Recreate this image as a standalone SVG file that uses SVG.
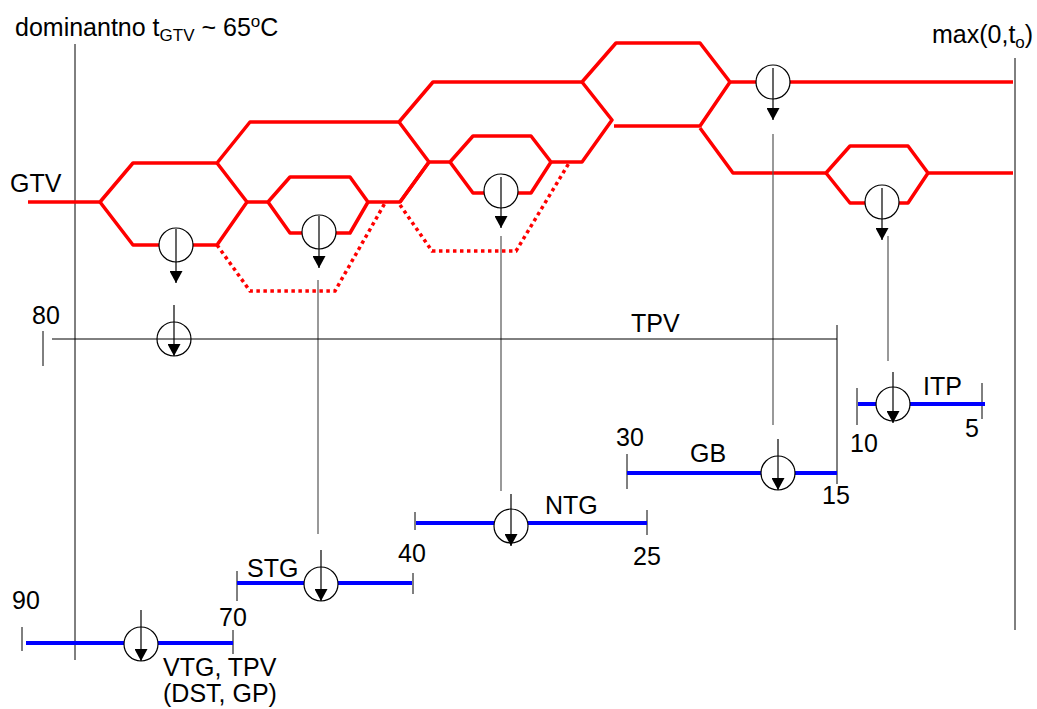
<svg xmlns="http://www.w3.org/2000/svg" width="1037" height="709" viewBox="0 0 1037 709">
<style>
.t{font-family:"Liberation Sans",Arial,sans-serif;font-size:25px;fill:#000}
.red{fill:none;stroke:#ff0000;stroke-width:3.5;stroke-linejoin:round}
.dot{fill:none;stroke:#ff0000;stroke-width:3.5;stroke-dasharray:3.5 3.5}
.blue{fill:none;stroke:#0000ff;stroke-width:4}
.ln{fill:none;stroke:#000;stroke-width:1}
.cn{fill:none;stroke:#555;stroke-width:1.2}
.c{fill:none;stroke:#000;stroke-width:1.2}
</style>
<defs>
<marker id="ah" viewBox="0 0 13 12" refX="6.5" refY="12" markerWidth="13" markerHeight="12" markerUnits="userSpaceOnUse" orient="0">
<path d="M0,0 L13,0 L6.5,12 Z" fill="#000"/>
</marker>
</defs>
<rect width="1037" height="709" fill="#fff"/>

<g id="frame">
<line class="ln" x1="75" y1="44" x2="75" y2="660"/>
<line class="ln" x1="1015" y1="58" x2="1015" y2="630"/>
</g>

<g id="gtv-network">
<path class="red" d="M28,202 H100 L133,163 H217 L250,122 H399 L433,82 H582 L616,43 H700 L730,82 H756"/>
<path class="red" d="M790,82 H1013"/>
<path class="red" d="M100,202 L133,245 H159"/>
<path class="red" d="M193,245 H217 L247,202 L217,163"/>
<path class="red" d="M247,202 H268 L290,177 H350 L368,202 H400 L429,162 L399,122"/>
<path class="red" d="M400,202 L429,162 H450 L473,136 H531 L551,162 H582 L612,120 L582,82"/>
<path class="red" d="M268,202 L290,233 H302 M336,233 H350 L368,202"/>
<path class="red" d="M450,162 L473,193 H484 M518,193 H531 L551,162"/>
<path class="red" d="M614,126 H700 L730,82"/>
<path class="red" d="M700,128 L733,173 H826 L850,146 H908 L928,173 H1013"/>
<path class="red" d="M826,173 L850,203 H865 M899,203 H908 L928,173"/>
<path class="dot" d="M217,245 L250,291 H335 L385,203"/>
<path class="dot" d="M400,205 L432,251 H516 L569,163"/>
</g>

<g id="gtv-taps">
<circle class="c" cx="176" cy="245" r="17"/>
<line class="c" x1="176" y1="229" x2="176" y2="283" marker-end="url(#ah)"/>
<circle class="c" cx="319" cy="232" r="17"/>
<line class="c" x1="319" y1="216" x2="319" y2="268" marker-end="url(#ah)"/>
<circle class="c" cx="501" cy="191" r="17"/>
<line class="c" x1="501" y1="177" x2="501" y2="228" marker-end="url(#ah)"/>
<circle class="c" cx="773" cy="82" r="17"/>
<line class="c" x1="773" y1="68" x2="773" y2="120" marker-end="url(#ah)"/>
<circle class="c" cx="882" cy="202" r="17"/>
<line class="c" x1="882" y1="188" x2="882" y2="240" marker-end="url(#ah)"/>
</g>

<g id="connectors">
<line class="cn" x1="318" y1="280" x2="318" y2="534"/>
<line class="cn" x1="501" y1="236" x2="501" y2="491"/>
<line class="cn" x1="773" y1="134" x2="773" y2="425"/>
<line class="cn" x1="888" y1="236" x2="888" y2="361"/>
</g>

<g id="tpv">
<line class="ln" x1="43" y1="331" x2="43" y2="366"/>
<line class="ln" x1="52" y1="339" x2="837" y2="339"/>
<line class="ln" x1="837" y1="325" x2="837" y2="484"/>
<circle class="c" cx="174" cy="339" r="17"/>
<line class="c" x1="174" y1="305" x2="174" y2="356" marker-end="url(#ah)"/>
<text class="t" x="32" y="324">80</text>
<text class="t" x="631" y="332">TPV</text>
</g>

<g id="vtg">
<line class="ln" x1="22" y1="627" x2="22" y2="651"/>
<line class="ln" x1="233" y1="630" x2="233" y2="654"/>
<path class="blue" d="M26,643 H124 M158,643 H233"/>
<circle class="c" cx="141" cy="644" r="17"/>
<line class="c" x1="141" y1="610" x2="141" y2="661" marker-end="url(#ah)"/>
<text class="t" x="12" y="609">90</text>
<text class="t" x="219" y="626">70</text>
<text class="t" x="163" y="676">VTG, TPV</text>
<text class="t" x="163" y="702">(DST, GP)</text>
</g>

<g id="stg">
<line class="ln" x1="237" y1="571" x2="237" y2="601"/>
<line class="ln" x1="413" y1="573" x2="413" y2="594"/>
<path class="blue" d="M237,583 H304 M338,583 H412"/>
<circle class="c" cx="321" cy="584" r="17"/>
<line class="c" x1="321" y1="550" x2="321" y2="601" marker-end="url(#ah)"/>
<text class="t" x="247" y="577">STG</text>
</g>

<g id="ntg">
<line class="ln" x1="415" y1="512" x2="415" y2="530"/>
<line class="ln" x1="647" y1="510" x2="647" y2="535"/>
<path class="blue" d="M416,523 H494 M528,523 H647"/>
<circle class="c" cx="511" cy="526" r="17"/>
<line class="c" x1="511" y1="494" x2="511" y2="546" marker-end="url(#ah)"/>
<text class="t" x="545" y="514">NTG</text>
<text class="t" x="398" y="562">40</text>
<text class="t" x="633" y="565">25</text>
</g>

<g id="gb">
<line class="ln" x1="627" y1="454" x2="627" y2="489"/>
<path class="blue" d="M627,473 H761 M795,473 H837"/>
<circle class="c" cx="778" cy="473" r="17"/>
<line class="c" x1="778" y1="439" x2="778" y2="490" marker-end="url(#ah)"/>
<text class="t" x="616" y="446">30</text>
<text class="t" x="690" y="462">GB</text>
<text class="t" x="822" y="504">15</text>
</g>

<g id="itp">
<line class="ln" x1="857" y1="388" x2="857" y2="425"/>
<line class="ln" x1="982" y1="383" x2="982" y2="419"/>
<path class="blue" d="M858,404 H876 M910,404 H985"/>
<circle class="c" cx="893" cy="404" r="17"/>
<line class="c" x1="893" y1="372" x2="893" y2="423" marker-end="url(#ah)"/>
<text class="t" x="923" y="395">ITP</text>
<text class="t" x="850" y="452">10</text>
<text class="t" x="965" y="437">5</text>
</g>

<g id="titles">
<text class="t" x="15" y="36">dominantno t<tspan font-size="17" dy="5">GTV</tspan><tspan dy="-5"> ~ 65</tspan><tspan font-size="17" dy="-9">o</tspan><tspan dy="9">C</tspan></text>
<text class="t" x="10" y="192">GTV</text>
<text class="t" x="932" y="43">max(0,t<tspan font-size="17" dy="5">o</tspan><tspan dy="-5">)</tspan></text>
</g>
</svg>
